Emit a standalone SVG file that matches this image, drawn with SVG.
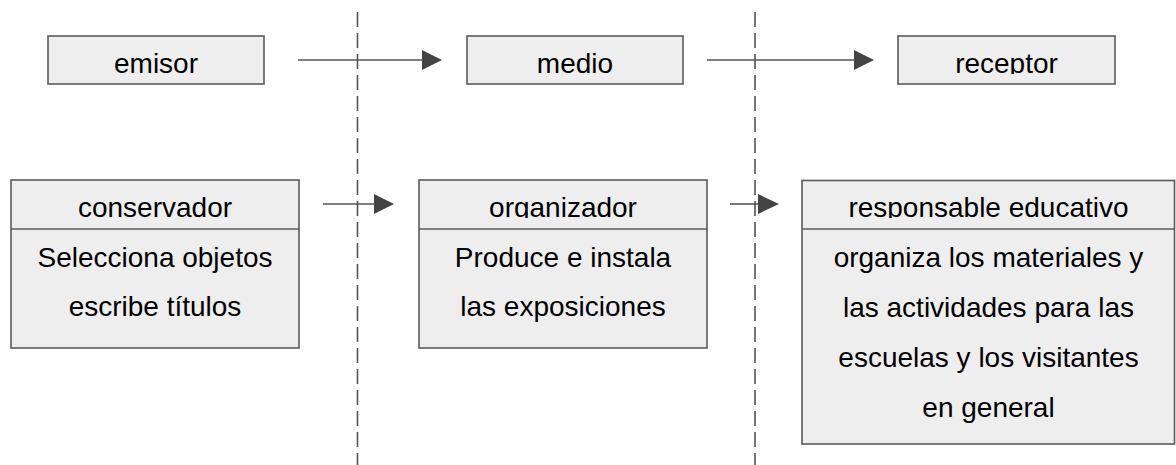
<svg xmlns="http://www.w3.org/2000/svg" width="1176" height="465" viewBox="0 0 1176 465">
<style>
.box{fill:#eeeeee;stroke:#5a5a5a;stroke-width:1.6}
.div{stroke:#5a5a5a;stroke-width:1.6}
.t{font-family:"Liberation Sans",Arial,sans-serif;font-size:28px;fill:#000;text-anchor:middle}
.dash{stroke:#555;stroke-width:1.6;stroke-dasharray:15 6;fill:none}
.con{stroke:#555;stroke-width:1.6;fill:none}
.head{fill:#444}
</style>
<defs>
<clipPath id="clipTop"><rect x="0" y="36" width="1176" height="38"/></clipPath>
<clipPath id="clipHead"><rect x="0" y="180" width="1176" height="38"/></clipPath>
</defs>
<g id="separators">
<line class="dash" x1="357.5" y1="12" x2="357.5" y2="465"/>
<line class="dash" x1="755" y1="12" x2="755" y2="465"/>
</g>
<g id="emisor">
<rect class="box" x="48" y="36" width="216" height="48"/>
<text class="t" x="156" y="73" clip-path="url(#clipTop)">emisor</text>
</g>
<g id="medio">
<rect class="box" x="467" y="36" width="216" height="48"/>
<text class="t" x="575" y="73" clip-path="url(#clipTop)">medio</text>
</g>
<g id="receptor">
<rect class="box" x="898" y="36" width="217" height="48"/>
<text class="t" x="1006.5" y="73" clip-path="url(#clipTop)">receptor</text>
</g>
<g id="conservador">
<rect class="box" x="11" y="180" width="288" height="168"/>
<line class="div" x1="11" y1="229" x2="299" y2="229"/>
<text class="t" x="155" y="217" clip-path="url(#clipHead)">conservador</text>
<text class="t" x="155" y="267">Selecciona objetos</text>
<text class="t" x="155" y="316">escribe títulos</text>
</g>
<g id="organizador">
<rect class="box" x="419" y="180" width="288" height="168"/>
<line class="div" x1="419" y1="229" x2="707" y2="229"/>
<text class="t" x="563" y="217" clip-path="url(#clipHead)">organizador</text>
<text class="t" x="563" y="267">Produce e instala</text>
<text class="t" x="563" y="316">las exposiciones</text>
</g>
<g id="responsable">
<rect class="box" x="802" y="180.5" width="372.5" height="263.5"/>
<line class="div" x1="802" y1="229" x2="1174.5" y2="229"/>
<text class="t" x="988.5" y="217" clip-path="url(#clipHead)">responsable educativo</text>
<text class="t" x="988.5" y="267">organiza los materiales y</text>
<text class="t" x="988.5" y="317">las actividades para las</text>
<text class="t" x="988.5" y="367">escuelas y los visitantes</text>
<text class="t" x="988.5" y="417">en general</text>
</g>
<g id="connectors">
<line class="con" x1="298" y1="60" x2="423" y2="60"/>
<polygon class="head" points="422,50 442,60 422,70"/>
<line class="con" x1="707" y1="60" x2="855" y2="60"/>
<polygon class="head" points="854,50 874,60 854,70"/>
<line class="con" x1="323" y1="204" x2="375" y2="204"/>
<polygon class="head" points="374,194 394,204 374,214"/>
<line class="con" x1="730" y1="204" x2="759" y2="204"/>
<polygon class="head" points="758,194 779,204 758,214"/>
</g>
</svg>
